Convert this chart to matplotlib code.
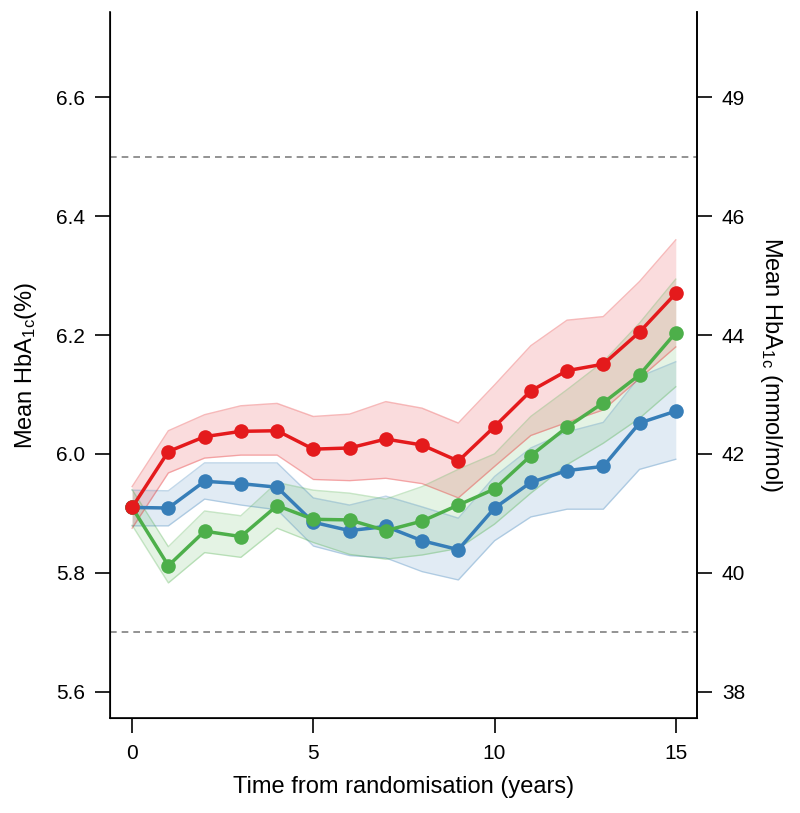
import numpy as np
import matplotlib
matplotlib.use("Agg")
import matplotlib.pyplot as plt

plt.rcParams['font.family'] = ['Liberation Sans', 'DejaVu Sans']
plt.rcParams['mathtext.fontset'] = 'custom'
plt.rcParams['mathtext.rm'] = 'Liberation Sans'
plt.rcParams['mathtext.it'] = 'Liberation Sans:italic'

# Years since randomisation
years = list(range(16))

# Mean HbA1c (%) and band limits for each group
red_mean = [5.910, 6.004, 6.029, 6.038, 6.039, 6.008, 6.010, 6.025,
            6.015, 5.988, 6.046, 6.106, 6.140, 6.151, 6.205, 6.270]
red_upper = [5.945, 6.039, 6.066, 6.081, 6.085, 6.063, 6.067, 6.088,
             6.077, 6.052, 6.116, 6.182, 6.225, 6.231, 6.290, 6.360]
red_lower = [5.875, 5.968, 5.993, 5.998, 5.998, 5.957, 5.955, 5.959,
             5.950, 5.926, 5.979, 6.031, 6.053, 6.074, 6.127, 6.180]

blue_mean = [5.910, 5.909, 5.954, 5.950, 5.944, 5.885, 5.871, 5.878,
             5.854, 5.839, 5.909, 5.952, 5.972, 5.979, 6.052, 6.072]
blue_upper = [5.939, 5.938, 5.985, 5.985, 5.985, 5.926, 5.914, 5.929,
              5.911, 5.892, 5.962, 6.010, 6.037, 6.053, 6.130, 6.155]
blue_lower = [5.879, 5.879, 5.924, 5.914, 5.906, 5.845, 5.829, 5.825,
              5.802, 5.788, 5.854, 5.894, 5.907, 5.907, 5.974, 5.991]

green_mean = [5.910, 5.812, 5.870, 5.861, 5.913, 5.890, 5.889, 5.871,
              5.887, 5.914, 5.941, 5.997, 6.045, 6.086, 6.133, 6.204]
green_upper = [5.940, 5.844, 5.904, 5.896, 5.952, 5.939, 5.934, 5.924,
               5.945, 5.974, 6.000, 6.063, 6.108, 6.155, 6.220, 6.294]
green_lower = [5.880, 5.783, 5.834, 5.826, 5.875, 5.851, 5.831, 5.823,
               5.830, 5.841, 5.882, 5.934, 5.982, 6.018, 6.060, 6.113]

# Axis ticks
left_ticks = [5.6, 5.8, 6.0, 6.2, 6.4, 6.6]
right_labels = ['38', '40', '42', '44', '46', '49']
x_ticks = [0, 5, 10, 15]
ref_lines = [5.7, 6.5]

fig = plt.figure(figsize=(8, 8.13), dpi=100)
ax = fig.add_axes([0.1375, 0.117, 0.7335, 0.868])

groups = [
    (blue_mean, blue_lower, blue_upper, '#377EB8'),
    (green_mean, green_lower, green_upper, '#4DAF4A'),
    (red_mean, red_lower, red_upper, '#E41A1C'),
]
for mean, lo, hi, col in groups:
    ax.fill_between(years, lo, hi, color=col, alpha=0.15, lw=0)
    ax.plot(years, hi, color=col, alpha=0.3, lw=1)
    ax.plot(years, lo, color=col, alpha=0.3, lw=1)
for mean, lo, hi, col in groups:
    ax.plot(years, mean, color=col, lw=2.5, marker='o', markersize=10.5,
            markeredgewidth=0)

for y in ref_lines:
    ax.axhline(y, color='#808080', lw=1.2, ls=(0, (4, 3)))

ax.set_xlim(-0.61, 15.58)
ax.set_ylim(5.556, 6.743)
ax.set_xticks(x_ticks)
ax.set_yticks(left_ticks)
ax.set_yticklabels([f'{t:.1f}' for t in left_ticks])
ax.spines['top'].set_visible(False)
for s in ['left', 'right', 'bottom']:
    ax.spines[s].set_linewidth(1.2)
ax.tick_params(axis='both', labelsize=15, length=11, width=1.2, direction='out')
ax.tick_params(axis='y', pad=7)
ax.tick_params(axis='x', pad=8)
ax.set_xlabel('Time from randomisation (years)', fontsize=17, labelpad=9)
ax.set_ylabel('Mean HbA$_{\\mathrm{1c}}$(%)', fontsize=17, labelpad=12)

ax2 = ax.twinx()
ax2.set_ylim(ax.get_ylim())
ax2.set_yticks(left_ticks)
ax2.set_yticklabels(right_labels)
ax2.spines['top'].set_visible(False)
ax2.spines['right'].set_linewidth(1.2)
ax2.tick_params(axis='y', labelsize=15, length=11, width=1.2, pad=7)
ax2.set_ylabel('Mean HbA$_{\\mathrm{1c}}$ (mmol/mol)', fontsize=17,
               rotation=270, labelpad=28)

fig.savefig('out.png', dpi=100)
